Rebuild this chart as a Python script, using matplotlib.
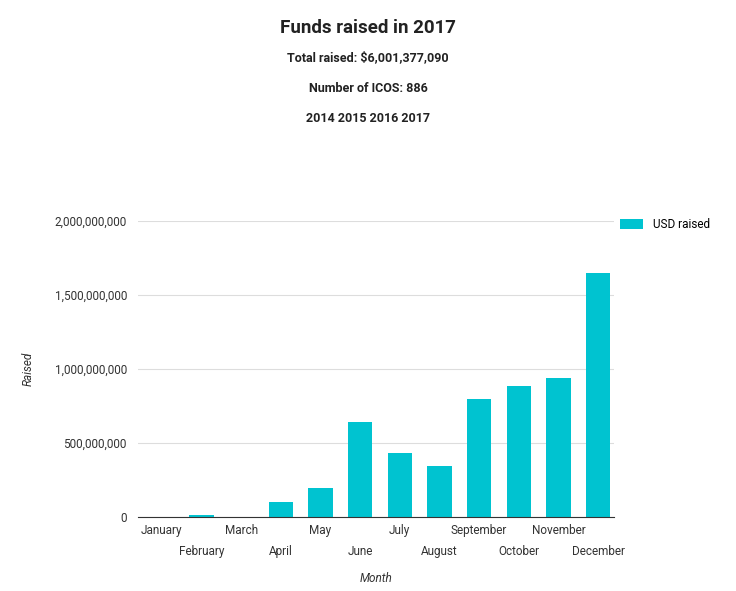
import matplotlib.pyplot as plt
from matplotlib.ticker import FuncFormatter

months = ["January", "February", "March", "April", "May", "June", "July",
          "August", "September", "October", "November", "December"]
raised = [1e6, 13e6, 3e6, 101e6, 196e6, 642e6, 432e6, 345e6, 797e6, 885e6, 939e6, 1649e6]

plt.rcParams["font.family"] = "Roboto"
fig = plt.figure(figsize=(7.36, 5.91), dpi=100)
ax = fig.add_axes([138 / 736, 1 - 517 / 591, (614 - 138) / 736, 296 / 591])

x = range(len(months))
ax.bar(x, raised, width=0.62, color="#00c3d0", label="USD raised", zorder=2)
ax.set_xlim(-0.6, 11.4)
ax.set_ylim(0, 2e9)
ax.set_yticks([0, 5e8, 1e9, 1.5e9, 2e9])
ax.yaxis.set_major_formatter(FuncFormatter(lambda v, p: f"{int(v):,}"))
ax.grid(axis="y", color="#dddddd", lw=0.8, zorder=0)
for s in ["top", "right", "left"]:
    ax.spines[s].set_visible(False)
ax.spines["bottom"].set_color("#333333")
ax.tick_params(axis="y", length=0, labelsize=8.5, colors="#333333", pad=8)
ax.tick_params(axis="x", length=0, labelsize=8.5, colors="#333333", pad=5)
ax.set_xticks(list(x))
ax.set_xticklabels(months)
# alternate labels on two rows
for i, t in enumerate(ax.xaxis.get_major_ticks()):
    if i % 2 == 1:
        t.set_pad(20)
ax.set_xlabel("Month", style="italic", fontsize=8.5, color="#333333", labelpad=10)
ax.set_ylabel("Raised", style="italic", fontsize=8.5, color="#333333", labelpad=14)

ax.legend(loc="upper left", bbox_to_anchor=(0.99, 1.045), frameon=False, fontsize=8.5,
          handlelength=2.0, handleheight=0.9)

fig.text(0.5, 1 - 28 / 591, "Funds raised in 2017", ha="center", va="center",
         fontsize=13.5, fontweight="bold", color="#222222")
fig.text(0.5, 1 - 58 / 591, "Total raised: $6,001,377,090", ha="center", va="center",
         fontsize=9, fontweight="bold", color="#222222")
fig.text(0.5, 1 - 88 / 591, "Number of ICOS: 886", ha="center", va="center",
         fontsize=9, fontweight="bold", color="#222222")
fig.text(0.5, 1 - 118 / 591, "2014 2015 2016 2017", ha="center", va="center",
         fontsize=9, fontweight="bold", color="#222222")

fig.savefig("out.png", dpi=100)
